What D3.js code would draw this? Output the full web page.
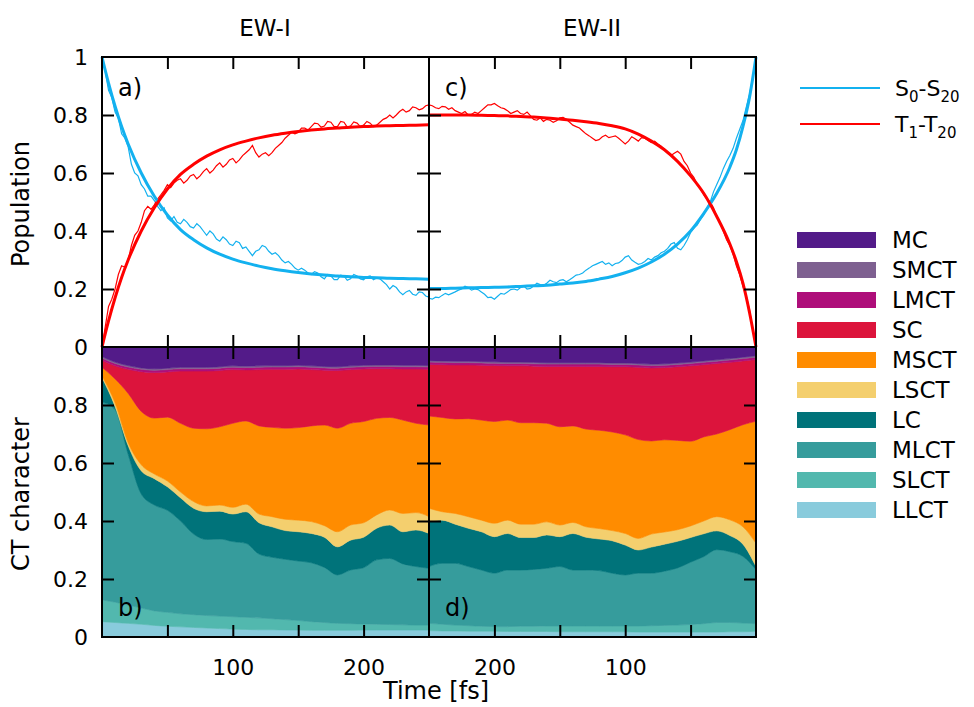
<!DOCTYPE html>
<html>
<head>
<meta charset="utf-8">
<script src="https://cdn.jsdelivr.net/npm/d3@7"></script>
<style>
  body { margin: 0; background: #fff; }
  svg { font-family: "DejaVu Sans", sans-serif; }
</style>
</head>
<body>
<svg id="chart" width="974" height="707"></svg>
<script>
// time grids [fs]
const timeNoisy = d3.range(0, 252.5, 2.5);
const timeFit = [0,5,10,15,20,30,40,50,60,70,80,90,100,110,120,130,140,150,160,170,180,190,200,210,220,230,240,250];
const timeCT = [0,10,20,30,40,50,60,70,80,90,100,110,120,130,140,150,160,170,180,190,200,210,220,230,240,250];

// EW-I populations (panel a), trajectory average every 2.5 fs
const singletA = [1.00,0.95,0.885,0.86,0.81,0.79,0.735,0.72,0.69,0.63,0.60,0.59,0.56,0.545,0.52,0.52,0.505,0.485,0.47,0.48,
  0.445,0.435,0.45,0.43,0.425,0.44,0.43,0.415,0.41,0.425,0.415,0.40,0.385,0.40,0.39,0.372,0.365,0.38,0.37,0.355,
  0.35,0.365,0.36,0.34,0.345,0.33,0.315,0.33,0.335,0.35,0.345,0.33,0.32,0.325,0.315,0.30,0.29,0.295,0.285,0.272,
  0.265,0.272,0.265,0.255,0.25,0.26,0.255,0.242,0.235,0.25,0.245,0.232,0.232,0.248,0.245,0.23,0.235,0.25,0.245,0.235,
  0.232,0.242,0.245,0.232,0.238,0.235,0.225,0.215,0.20,0.212,0.205,0.19,0.18,0.19,0.195,0.182,0.178,0.19,0.188,0.176,0.172];
const tripletA = [0.00,0.07,0.14,0.165,0.20,0.25,0.28,0.275,0.30,0.35,0.385,0.40,0.43,0.47,0.485,0.475,0.49,0.51,0.525,0.54,
  0.56,0.55,0.565,0.575,0.58,0.565,0.575,0.59,0.595,0.58,0.59,0.605,0.615,0.60,0.61,0.625,0.635,0.62,0.63,0.645,
  0.65,0.635,0.645,0.66,0.67,0.68,0.695,0.67,0.655,0.665,0.67,0.66,0.67,0.685,0.695,0.705,0.72,0.73,0.74,0.735,
  0.74,0.755,0.755,0.748,0.76,0.772,0.77,0.758,0.762,0.778,0.775,0.76,0.76,0.778,0.775,0.758,0.762,0.776,0.772,0.76,
  0.765,0.778,0.772,0.76,0.765,0.775,0.785,0.79,0.80,0.79,0.80,0.812,0.82,0.81,0.815,0.828,0.825,0.818,0.822,0.832,0.835];
const singletFitA = [1.00,0.91,0.83,0.76,0.70,0.60,0.52,0.455,0.405,0.37,0.342,0.32,0.303,0.29,0.279,0.27,0.263,0.257,
  0.252,0.248,0.245,0.242,0.240,0.239,0.237,0.236,0.235,0.234];
const tripletFitA = [0.00,0.09,0.17,0.24,0.30,0.40,0.48,0.545,0.595,0.63,0.658,0.68,0.697,0.71,0.721,0.73,0.737,0.743,
  0.748,0.752,0.755,0.758,0.760,0.762,0.763,0.764,0.765,0.766];

// EW-II populations (panel c)
const singletC = [1.00,0.93,0.87,0.825,0.78,0.75,0.72,0.685,0.66,0.64,0.615,0.585,0.56,0.535,0.50,0.48,0.455,0.44,0.42,0.41,
  0.395,0.37,0.35,0.335,0.34,0.36,0.355,0.34,0.33,0.325,0.315,0.31,0.30,0.305,0.295,0.288,0.285,0.292,0.30,0.315,
  0.31,0.298,0.29,0.288,0.28,0.29,0.285,0.295,0.29,0.285,0.28,0.272,0.265,0.255,0.25,0.248,0.24,0.232,0.225,0.232,
  0.23,0.222,0.225,0.23,0.22,0.212,0.215,0.22,0.21,0.202,0.20,0.21,0.205,0.196,0.20,0.198,0.19,0.182,0.185,0.175,
  0.165,0.172,0.17,0.182,0.19,0.198,0.20,0.196,0.205,0.21,0.20,0.196,0.19,0.185,0.18,0.185,0.178,0.17,0.172,0.165,0.168];
const tripletC = [0.00,0.06,0.13,0.175,0.21,0.25,0.28,0.32,0.35,0.37,0.40,0.43,0.45,0.48,0.50,0.51,0.525,0.545,0.56,0.585,
  0.60,0.625,0.64,0.665,0.675,0.668,0.66,0.668,0.68,0.692,0.70,0.71,0.705,0.712,0.72,0.722,0.71,0.718,0.725,0.71,
  0.70,0.71,0.72,0.728,0.725,0.722,0.73,0.725,0.715,0.712,0.72,0.728,0.735,0.745,0.755,0.76,0.765,0.775,0.785,0.792,
  0.79,0.78,0.775,0.782,0.785,0.778,0.79,0.782,0.785,0.798,0.81,0.802,0.805,0.815,0.81,0.805,0.815,0.822,0.825,0.832,
  0.84,0.835,0.835,0.825,0.815,0.805,0.81,0.802,0.80,0.812,0.805,0.81,0.815,0.825,0.82,0.828,0.83,0.822,0.825,0.832,0.835];
const singletFitC = [1.00,0.86,0.76,0.68,0.62,0.53,0.46,0.40,0.355,0.32,0.293,0.272,0.256,0.243,0.234,0.226,0.221,0.217,
  0.213,0.211,0.209,0.207,0.206,0.205,0.204,0.203,0.202,0.202];
const tripletFitC = [0.00,0.12,0.22,0.295,0.355,0.45,0.53,0.59,0.64,0.68,0.71,0.734,0.752,0.763,0.771,0.777,0.782,0.786,
  0.79,0.793,0.795,0.797,0.798,0.799,0.80,0.80,0.80,0.80];

// CT character, EW-I (panel b)
const bLLCT = [.053,.05,.047,.044,.04,.037,.035,.033,.031,.029,.027,.026,.025,.025,.024,.024,.023,.023,.023,.023,.024,.024,.024,.024,.024,.024];
const bSLCT = [.075,.07,.063,.056,.05,.048,.045,.044,.043,.043,.043,.042,.041,.038,.036,.033,.03,.027,.024,.023,.021,.02,.019,.018,.017,.017];
const bMLCT = [.682,.664,.52,.393,.365,.352,.32,.278,.262,.266,.259,.255,.22,.212,.208,.205,.203,.19,.167,.185,.194,.222,.228,.21,.202,.196];
const bLC   = [.085,.011,.03,.08,.091,.081,.08,.089,.096,.096,.095,.109,.108,.105,.099,.101,.101,.104,.097,.103,.105,.109,.115,.111,.126,.12];
const bLSCT = [.005,.012,.01,.021,.016,.02,.02,.023,.02,.021,.023,.026,.03,.035,.039,.04,.041,.04,.052,.052,.05,.046,.052,.063,.06,.058];
const bMSCT = [.03,.083,.17,.184,.193,.22,.237,.253,.266,.27,.29,.287,.304,.308,.314,.319,.33,.347,.357,.351,.349,.333,.319,.322,.308,.316];
const bSC   = [.024,.045,.083,.137,.157,.156,.18,.197,.199,.194,.185,.176,.194,.2,.203,.202,.194,.189,.199,.185,.181,.171,.168,.176,.187,.192];
const bLMCT = [.008,.008,.008,.008,.008,.008,.008,.008,.008,.008,.008,.008,.008,.008,.008,.008,.008,.008,.008,.008,.008,.008,.008,.008,.008,.008];
const bSMCT = [.005,.005,.005,.005,.005,.005,.005,.005,.005,.005,.005,.005,.005,.005,.005,.005,.005,.005,.005,.005,.005,.005,.005,.005,.005,.005];
const bMC   = [.033,.052,.064,.072,.075,.073,.07,.07,.07,.068,.065,.066,.065,.064,.064,.063,.065,.067,.068,.065,.063,.062,.062,.063,.063,.064];

// CT character, EW-II (panel d)
const dLLCT = [.02,.018,.018,.017,.017,.017,.017,.017,.017,.017,.018,.018,.018,.018,.018,.018,.019,.019,.019,.019,.02,.02,.02,.021,.021,.022];
const dSLCT = [.026,.03,.032,.033,.029,.026,.024,.023,.022,.021,.02,.02,.02,.02,.02,.02,.019,.018,.018,.017,.016,.017,.019,.02,.023,.025];
const dMLCT = [.186,.23,.244,.251,.231,.215,.197,.187,.181,.182,.176,.182,.191,.193,.193,.205,.199,.196,.194,.195,.184,.194,.204,.213,.21,.196];
const dLC   = [.011,.042,.056,.065,.079,.085,.092,.093,.09,.08,.103,.112,.109,.113,.126,.103,.115,.11,.112,.126,.126,.132,.132,.135,.149,.155];
const dLSCT = [.08,.06,.054,.049,.044,.04,.04,.042,.045,.04,.04,.035,.036,.036,.038,.04,.045,.046,.046,.046,.046,.04,.04,.037,.029,.046];
const dMSCT = [.421,.352,.311,.285,.29,.292,.308,.318,.321,.341,.34,.34,.339,.337,.333,.339,.34,.35,.35,.345,.351,.345,.338,.326,.325,.318];
const dSC   = [.213,.22,.232,.243,.249,.26,.254,.249,.252,.249,.235,.225,.22,.216,.205,.208,.196,.195,.196,.187,.193,.189,.185,.186,.182,.178];
const dLMCT = [.008,.008,.008,.008,.008,.008,.008,.008,.008,.008,.008,.008,.008,.008,.008,.008,.008,.008,.008,.008,.008,.008,.008,.008,.008,.008];
const dSMCT = [.005,.005,.005,.005,.005,.005,.005,.005,.005,.005,.005,.005,.005,.005,.005,.005,.005,.005,.005,.005,.005,.005,.005,.005,.005,.005];
const dMC   = [.03,.035,.04,.044,.048,.052,.055,.058,.059,.057,.055,.055,.054,.054,.054,.054,.054,.053,.052,.052,.051,.05,.049,.049,.048,.047];

// stack order, bottom to top
const ctKeys = ['LLCT','SLCT','MLCT','LC','LSCT','MSCT','SC','LMCT','SMCT','MC'];
const ctColors = ['#89cbdc','#52b8ae','#369c9c','#00737a','#f4cf6e','#ff8c00','#dc143c','#ae0e7a','#7e6090','#531b89'];

const popTicks = [0, 0.2, 0.4, 0.6, 0.8, 1];
const ctTicks = [0, 0.2, 0.4, 0.6, 0.8];
const timeTicks = [50, 100, 150, 200];
const timeLabels = [100, 200];

const blue = '#13b1ef';
const red = '#ff0000';

const svg = d3.select('#chart');

const xLeft = d3.scaleLinear().domain([0, 250]).range([102, 429]);
const xRight = d3.scaleLinear().domain([0, 250]).range([756, 429]);
const yPop = d3.scaleLinear().domain([0, 1]).range([347, 57]);
const yCT = d3.scaleLinear().domain([0, 1]).range([637, 347]);

function drawPop(x, sing, trip, singFit, tripFit, label) {
  const g = svg.append('g');
  const noisy = d3.line().x((d, i) => x(timeNoisy[i])).y(d => yPop(d));
  const smooth = d3.line().x((d, i) => x(timeFit[i])).y(d => yPop(d)).curve(d3.curveMonotoneX);

  g.append('path').attr('d', noisy(sing)).attr('fill', 'none').attr('stroke', blue).attr('stroke-width', 1.2);
  g.append('path').attr('d', noisy(trip)).attr('fill', 'none').attr('stroke', red).attr('stroke-width', 1.2);
  g.append('path').attr('d', smooth(singFit)).attr('fill', 'none').attr('stroke', blue).attr('stroke-width', 3);
  g.append('path').attr('d', smooth(tripFit)).attr('fill', 'none').attr('stroke', red).attr('stroke-width', 3);

  g.append('text').text(label)
    .attr('x', Math.min(...x.range()) + 16).attr('y', 96)
    .style('font-size', '24px');
}

function drawCT(x, layers, label) {
  const rows = timeCT.map((t, i) => {
    const r = { t: t };
    ctKeys.forEach((k, j) => { r[k] = layers[j][i]; });
    return r;
  });
  const series = d3.stack().keys(ctKeys).offset(d3.stackOffsetExpand)(rows);
  const area = d3.area()
    .x(d => x(d.data.t))
    .y0(d => yCT(d[0]))
    .y1(d => yCT(d[1]))
    .curve(d3.curveMonotoneX);

  const g = svg.append('g');
  g.selectAll('path')
    .data(series)
    .enter()
    .append('path')
    .attr('d', area)
    .attr('fill', (d, i) => ctColors[i])
    .attr('stroke', (d, i) => ctColors[i])
    .attr('stroke-width', 0.6);

  g.append('text').text(label)
    .attr('x', Math.min(...x.range()) + 16).attr('y', 616)
    .style('font-size', '24px');
}

// inward ticks on all four sides plus the frame
function drawFrame(x, y, yTickVals) {
  const g = svg.append('g');
  const x0 = Math.min(...x.range()), x1 = Math.max(...x.range());
  const y0 = Math.max(...y.range()), y1 = Math.min(...y.range());
  const strip = s => s.call(a => a.select('.domain').remove())
    .call(a => a.selectAll('line').attr('stroke', '#000').attr('stroke-width', 2));

  g.append('g').attr('transform', `translate(0,${y0})`)
    .call(d3.axisBottom(x).tickValues(timeTicks).tickSize(-12).tickFormat('')).call(strip);
  g.append('g').attr('transform', `translate(0,${y1})`)
    .call(d3.axisTop(x).tickValues(timeTicks).tickSize(-12).tickFormat('')).call(strip);
  g.append('g').attr('transform', `translate(${x0},0)`)
    .call(d3.axisLeft(y).tickValues(yTickVals).tickSize(-12).tickFormat('')).call(strip);
  g.append('g').attr('transform', `translate(${x1},0)`)
    .call(d3.axisRight(y).tickValues(yTickVals).tickSize(-12).tickFormat('')).call(strip);

  g.append('rect')
    .attr('x', x0).attr('y', y1)
    .attr('width', x1 - x0).attr('height', y0 - y1)
    .attr('fill', 'none').attr('stroke', '#000').attr('stroke-width', 2);
}

drawPop(xLeft, singletA, tripletA, singletFitA, tripletFitA, 'a)');
drawPop(xRight, singletC, tripletC, singletFitC, tripletFitC, 'c)');
drawCT(xLeft, [bLLCT,bSLCT,bMLCT,bLC,bLSCT,bMSCT,bSC,bLMCT,bSMCT,bMC], 'b)');
drawCT(xRight, [dLLCT,dSLCT,dMLCT,dLC,dLSCT,dMSCT,dSC,dLMCT,dSMCT,dMC], 'd)');

const inner = [0.2, 0.4, 0.6, 0.8];
drawFrame(xLeft, yPop, inner);
drawFrame(xRight, yPop, inner);
drawFrame(xLeft, yCT, inner);
drawFrame(xRight, yCT, inner);

// tick labels
const fmt = d3.format('~g');
const labelStyle = s => s.call(a => a.select('.domain').remove())
  .call(a => a.selectAll('text').style('font-size', '22px').attr('fill', '#000')
    .style('font-family', '"DejaVu Sans", sans-serif'));

svg.append('g').attr('transform', 'translate(102,0)')
  .call(d3.axisLeft(yPop).tickValues(popTicks).tickSize(0).tickPadding(14).tickFormat(fmt)).call(labelStyle);
svg.append('g').attr('transform', 'translate(102,0)')
  .call(d3.axisLeft(yCT).tickValues(ctTicks).tickSize(0).tickPadding(14).tickFormat(fmt)).call(labelStyle);
svg.append('g').attr('transform', 'translate(0,637)')
  .call(d3.axisBottom(xLeft).tickValues(timeLabels).tickSize(0).tickPadding(22).tickFormat(fmt)).call(labelStyle);
svg.append('g').attr('transform', 'translate(0,637)')
  .call(d3.axisBottom(xRight).tickValues(timeLabels).tickSize(0).tickPadding(22).tickFormat(fmt)).call(labelStyle);

// titles and axis labels
svg.append('text').text('EW-I').attr('x', 265).attr('y', 36)
  .attr('text-anchor', 'middle').style('font-size', '23px');
svg.append('text').text('EW-II').attr('x', 592).attr('y', 36)
  .attr('text-anchor', 'middle').style('font-size', '23px');
svg.append('text').text('Time [fs]').attr('x', 436).attr('y', 699)
  .attr('text-anchor', 'middle').style('font-size', '24px');
svg.append('text').text('Population')
  .attr('transform', 'translate(29,204) rotate(-90)')
  .attr('text-anchor', 'middle').style('font-size', '24px');
svg.append('text').text('CT character')
  .attr('transform', 'translate(29,494) rotate(-90)')
  .attr('text-anchor', 'middle').style('font-size', '24px');

// population legend
const popLegend = [
  { base: 'S', sub1: '0', mid: '-S', sub2: '20', color: blue, y: 88 },
  { base: 'T', sub1: '1', mid: '-T', sub2: '20', color: red, y: 124 }
];
popLegend.forEach(d => {
  svg.append('line').attr('x1', 800).attr('x2', 880).attr('y1', d.y).attr('y2', d.y)
    .attr('stroke', d.color).attr('stroke-width', 2);
  const t = svg.append('text').attr('x', 895).attr('y', d.y + 8).style('font-size', '22px');
  t.append('tspan').text(d.base);
  t.append('tspan').text(d.sub1).attr('dy', 6).style('font-size', '15px');
  t.append('tspan').text(d.mid).attr('dy', -6);
  t.append('tspan').text(d.sub2).attr('dy', 6).style('font-size', '15px');
});

// CT legend, top to bottom
const legendKeys = ctKeys.slice().reverse();
const legendColors = ctColors.slice().reverse();
const leg = svg.append('g').selectAll('g')
  .data(legendKeys)
  .enter()
  .append('g')
  .attr('transform', (d, i) => `translate(797,${232 + i * 30})`);
leg.append('rect').attr('width', 79).attr('height', 16).attr('fill', (d, i) => legendColors[i]);
leg.append('text').text(d => d).attr('x', 95).attr('y', 16).style('font-size', '23px');
</script>
</body>
</html>
